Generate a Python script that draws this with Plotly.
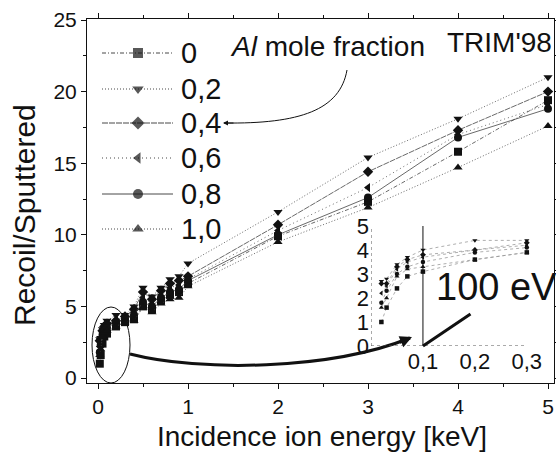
import plotly.graph_objects as go

# Incidence ion energy (keV)
energy = [0.02, 0.03, 0.05, 0.07, 0.1, 0.2, 0.3, 0.4, 0.5, 0.6, 0.7, 0.8, 0.9, 1, 2, 3, 4, 5]

# Recoil/Sputtered ratio per Al mole fraction
al_00 = [1.0, 1.6, 2.4, 2.9, 3.1, 3.6, 3.9, 4.1, 5.0, 4.8, 5.4, 5.8, 6.0, 6.6, 9.9, 12.3, 15.8, 19.4]
al_02 = [2.7, 2.8, 3.4, 3.7, 4.0, 4.4, 4.4, 5.0, 6.3, 5.7, 6.3, 6.9, 7.1, 8.0, 11.6, 15.4, 18.1, 21.0]
al_04 = [2.6, 2.6, 3.3, 3.6, 3.8, 4.0, 4.3, 4.8, 6.0, 5.5, 6.1, 6.6, 6.8, 7.1, 10.7, 14.4, 17.3, 20.0]
al_06 = [2.2, 2.5, 3.2, 3.5, 3.7, 4.0, 4.2, 4.6, 5.6, 5.2, 5.8, 6.3, 6.5, 6.9, 10.3, 13.3, 17.0, 19.1]
al_08 = [1.8, 2.3, 3.0, 3.3, 3.5, 3.9, 4.1, 4.4, 5.3, 5.0, 5.6, 6.0, 6.2, 6.8, 10.0, 12.6, 16.8, 18.8]
al_10 = [1.6, 2.0, 2.9, 3.2, 3.3, 3.6, 3.9, 4.0, 4.9, 4.6, 5.2, 5.5, 5.6, 6.4, 9.5, 11.9, 14.7, 17.6]

labels = ["0", "0,2", "0,4", "0,6", "0,8", "1,0"]
series = [al_00, al_02, al_04, al_06, al_08, al_10]
symbols = ["square", "triangle-down", "diamond", "triangle-left", "circle", "triangle-up"]
dashes = ["4px,2px,1px,2px", "1px,2px", "6px,1px", "1px,3px", "solid", "1px,2px"]

inset_max = 0.3
inset_ticks = [0.1, 0.2, 0.3]
inset_ticktext = ["0,1", "0,2", "0,3"]

FONT = "Liberation Sans, Arial, sans-serif"
INK = "#111111"

W, H = 556, 455
L, R, T, B = 87, 554, 19, 383  # plot area in pixels
X0_PX, X_SCALE = 98, 90.0       # pixel of 0 keV, pixels per keV
Y0_PX, Y_SCALE = 378, 14.32     # pixel of ratio 0, pixels per unit

fig = go.Figure()

# main panel
for vals, sym, dash in zip(series, symbols, dashes):
    fig.add_trace(go.Scatter(
        x=energy, y=vals, mode="lines+markers",
        line=dict(color="#444444", width=0.8, dash=dash),
        marker=dict(symbol=sym, size=8, color=INK),
        showlegend=False, xaxis="x", yaxis="y"))

# inset: low-energy part
for vals, sym in zip(series, symbols):
    xs = [e for e in energy if e <= inset_max]
    ys = vals[:len(xs)]
    fig.add_trace(go.Scatter(
        x=xs, y=ys, mode="lines+markers",
        line=dict(color="#999999", width=0.8, dash="dot"),
        marker=dict(symbol=sym, size=4.5, color=INK),
        showlegend=False, xaxis="x2", yaxis="y2"))

# legend samples drawn on a pixel-space overlay
row_y = [53, 89, 123, 158, 194, 229]
for ry, lab, sym, dash in zip(row_y, labels, symbols, dashes):
    fig.add_trace(go.Scatter(
        x=[102, 138, 173], y=[ry, ry, ry], mode="lines+markers",
        line=dict(color="#333333", width=0.9, dash=dash),
        marker=dict(symbol=sym, size=[0, 10, 0], color=INK, line=dict(width=0)),
        showlegend=False, xaxis="x3", yaxis="y3", hoverinfo="skip"))


def to_paper_x(px):
    return (px - L) / (R - L)


def to_paper_y(py):
    return (B - py) / (B - T)


annotations = []
for ry, lab in zip(row_y, labels):
    annotations.append(dict(x=179, y=ry, xref="x3", yref="y3", text=lab, showarrow=False,
                            xanchor="left", yanchor="middle",
                            font=dict(family=FONT, size=29, color=INK)))

annotations += [
    dict(x=228, y=46, xref="x3", yref="y3", text="<i>Al</i> mole fraction", showarrow=False,
         xanchor="left", yanchor="middle", font=dict(family=FONT, size=28, color=INK)),
    dict(x=554, y=42, xref="x3", yref="y3", text="TRIM'98", showarrow=False,
         xanchor="right", yanchor="middle", font=dict(family=FONT, size=28, color=INK)),
    dict(x=434, y=287, xref="x3", yref="y3", text="100 eV", showarrow=False,
         xanchor="left", yanchor="middle", font=dict(family=FONT, size=38, color=INK)),
    # arrow pointing at the 0,4 legend label
    dict(x=223, y=123, xref="x3", yref="y3", ax=12, ay=0, text="", showarrow=True,
         arrowhead=2, arrowsize=1, arrowwidth=1, arrowcolor=INK),
    # arrow head for the thick curve into the inset
    dict(x=412, y=337, xref="x3", yref="y3", ax=-14, ay=6, text="", showarrow=True,
         arrowhead=2, arrowsize=0.8, arrowwidth=3, arrowcolor=INK),
    # 100 eV pointer
    dict(x=423, y=346, xref="x3", yref="y3", ax=49, ay=-33, text="", showarrow=True,
         arrowhead=0, arrowwidth=3, arrowcolor=INK),
    # axis titles
    dict(x=to_paper_x(322), y=to_paper_y(437), xref="paper", yref="paper",
         text="Incidence ion energy [keV]", showarrow=False, xanchor="center", yanchor="middle",
         font=dict(family=FONT, size=28, color=INK)),
    dict(x=to_paper_x(24), y=to_paper_y(215), xref="paper", yref="paper",
         text="Recoil/Sputtered", textangle=-90, showarrow=False,
         xanchor="center", yanchor="middle", font=dict(family=FONT, size=30, color=INK)),
]

shapes = [
    # ellipse around the low-energy cluster
    dict(type="circle", xref="x3", yref="y3", x0=92, x1=130, y0=307, y1=383,
         line=dict(color=INK, width=1)),
    # thick curve from the cluster to the inset
    dict(type="path", xref="x3", yref="y3", path="M 130,354 C 200,372 330,370 410,338",
         line=dict(color=INK, width=3)),
    # thin curve from the legend caption
    dict(type="path", xref="x3", yref="y3", path="M 347,70 C 340,110 300,124 224,123",
         line=dict(color=INK, width=1)),
    # inset axes (dotted)
    dict(type="line", xref="x2", yref="y2", x0=0, x1=inset_max, y0=0, y1=0,
         line=dict(color="#555555", width=1, dash="dot")),
    dict(type="line", xref="x2", yref="y2", x0=0, x1=0, y0=0, y1=5,
         line=dict(color="#555555", width=1, dash="dot")),
    # 100 eV marker line
    dict(type="line", xref="x2", yref="y2", x0=0.1, x1=0.1, y0=0, y1=5.05,
         line=dict(color=INK, width=1)),
]

tickfont = dict(family=FONT, size=21, color=INK)
inset_font = dict(family=FONT, size=22, color=INK)
x_rng = [(L - X0_PX) / X_SCALE, (R - X0_PX) / X_SCALE]
y_rng = [(Y0_PX - B) / Y_SCALE, (Y0_PX - T) / Y_SCALE]
x_major = [0, 1, 2, 3, 4, 5]
x_minor = [0.5, 1.5, 2.5, 3.5, 4.5]
y_major = [0, 5, 10, 15, 20, 25]
y_minor = [2.5, 7.5, 12.5, 17.5, 22.5]

fig.update_layout(
    width=W, height=H,
    margin=dict(l=L, r=W - R, t=T, b=H - B, autoexpand=False),
    paper_bgcolor="white", plot_bgcolor="white",
    showlegend=False,
    annotations=annotations, shapes=shapes,
    xaxis=dict(range=x_rng, tickvals=x_major, ticks="outside", ticklen=5,
               tickcolor=INK, showline=True, mirror="ticks", linecolor=INK, linewidth=1,
               showgrid=False, zeroline=False, tickfont=tickfont, automargin=False,
               minor=dict(tickvals=x_minor, ticks="outside", ticklen=3, tickcolor=INK)),
    yaxis=dict(range=y_rng, tickvals=y_major, ticks="outside", ticklen=5,
               tickcolor=INK, showline=True, mirror="ticks", linecolor=INK, linewidth=1,
               showgrid=False, zeroline=False, tickfont=tickfont, automargin=False,
               minor=dict(tickvals=y_minor, ticks="outside", ticklen=3, tickcolor=INK)),
    xaxis2=dict(domain=[to_paper_x(371), to_paper_x(532)], range=[0, 0.31], anchor="y2",
                tickvals=inset_ticks, ticktext=inset_ticktext, ticks="", showline=False,
                showgrid=False, zeroline=False, tickfont=inset_font, automargin=False),
    yaxis2=dict(domain=[to_paper_y(346), to_paper_y(226)], range=[0, 5], anchor="x2",
                tickvals=[0, 1, 2, 3, 4, 5], ticks="", showline=False, showgrid=False,
                zeroline=False, tickfont=inset_font, ticklabelstandoff=1, automargin=False),
    xaxis3=dict(range=[L, R], overlaying="x", visible=False, anchor="y3"),
    yaxis3=dict(range=[B, T], overlaying="y", visible=False, anchor="x3"),
)

fig.write_html("out.html")
